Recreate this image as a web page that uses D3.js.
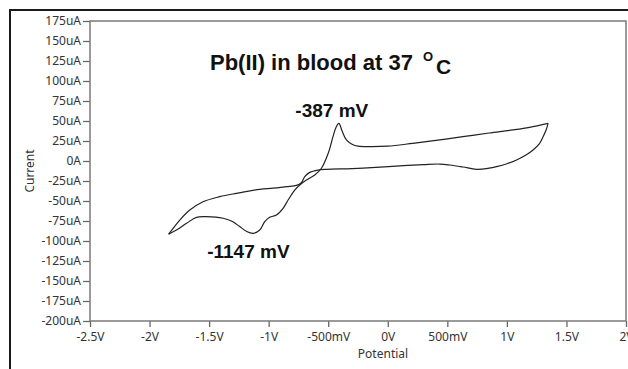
<!DOCTYPE html>
<html>
<head>
<meta charset="utf-8">
<script src="https://cdn.jsdelivr.net/npm/d3@7"></script>
<style>
  html, body { margin: 0; padding: 0; background: #fff; }
  svg { display: block; }
  .tick text { font-family: "Noto Sans", sans-serif; font-size: 12px; fill: #333; }
  .tick line { stroke: #666; stroke-width: 1.3; }
  .lbl { font-family: "Liberation Sans", Arial, sans-serif; font-weight: bold; fill: #111; }
</style>
</head>
<body>
<svg id="chart" width="628" height="369"></svg>
<script>
// forward scan: from the right vertex back to the left vertex (V, uA)
const scan1Potential = [1.346, 1.19, 1.05, 0.85, 0.63, 0.42, 0.21, 0.0, -0.15, -0.25, -0.30, -0.347, -0.385, -0.41,
  -0.435, -0.46, -0.50, -0.557, -0.613, -0.683, -0.739, -0.781, -0.837, -0.879, -0.935, -0.991, -1.033, -1.075,
  -1.131, -1.18, -1.243, -1.30, -1.383, -1.522, -1.606, -1.69, -1.774, -1.84];
const scan1Current = [47, 42, 38.8, 35, 30.4, 26, 22.1, 18.5, 17.9, 18.5, 21, 26.3, 38, 47,
  42, 30.4, 9.6, -9.1, -17.5, -23.8, -30, -36.3, -48.8, -59.1, -67.5, -70.4, -75.9, -86.3,
  -90.4, -88.5, -82, -76, -71.6, -69.6, -70.4, -77.9, -86.3, -91.5];

// reverse scan: from the left vertex to the right vertex
const scan2Potential = [-1.84, -1.746, -1.662, -1.551, -1.411, -1.27, -1.075, -0.963, -0.85, -0.767, -0.725,
  -0.697, -0.655, -0.585, -0.515, -0.30, -0.10, 0.10, 0.30, 0.437, 0.521, 0.632, 0.745, 0.85, 0.913, 1.0,
  1.081, 1.16, 1.22, 1.27, 1.304, 1.33, 1.346];
const scan2Current = [-91.5, -73.8, -61.3, -50.9, -44.6, -40.4, -35.4, -34, -32, -30.5, -27,
  -19.6, -14.2, -11.3, -10.4, -9.5, -8, -6, -4.5, -3.8, -5, -7.5, -10.4, -9, -7.1, -3.5,
  1.3, 7.5, 13.8, 21, 30.4, 39, 47];

const xTickValues = [-2.5, -2, -1.5, -1, -0.5, 0, 0.5, 1, 1.5, 2];
const xTickLabels = ["-2.5V", "-2V", "-1.5V", "-1V", "-500mV", "0V", "500mV", "1V", "1.5V", "2V"];
const yTickValues = [175, 150, 125, 100, 75, 50, 25, 0, -25, -50, -75, -100, -125, -150, -175, -200];
const yTickLabels = ["175uA", "150uA", "125uA", "100uA", "75uA", "50uA", "25uA", "0A", "-25uA", "-50uA",
  "-75uA", "-100uA", "-125uA", "-150uA", "-175uA", "-200uA"];

const peaks = [
  {text: "-387 mV", potential: -0.47, current: 55},
  {text: "-1147 mV", potential: -1.17, current: -121}
];

const svg = d3.select("#chart");
const plot = {left: 90, top: 21, right: 626, bottom: 321};

const x = d3.scaleLinear().domain([-2.5, 2]).range([plot.left, plot.right]);
const y = d3.scaleLinear().domain([-200, 175]).range([plot.bottom, plot.top]);

// outer black frame (top and left edges only visible)
svg.append("path")
  .attr("d", "M10,369 L10,10 L628,10")
  .attr("fill", "none").attr("stroke", "#1a1a1a").attr("stroke-width", 2);

// axes
const yAxis = d3.axisLeft(y).tickValues(yTickValues)
  .tickFormat((d, i) => yTickLabels[i]).tickSize(7).tickPadding(2);
svg.append("g").attr("transform", `translate(${plot.left},0)`).call(yAxis)
  .call(g => g.select(".domain").remove());

const xAxis = d3.axisBottom(x).tickValues(xTickValues)
  .tickFormat((d, i) => xTickLabels[i]).tickSize(6).tickPadding(5);
svg.append("g").attr("transform", `translate(0,${plot.bottom})`).call(xAxis)
  .call(g => g.select(".domain").remove());

// plot frame
svg.append("rect")
  .attr("x", plot.left).attr("y", plot.top)
  .attr("width", plot.right - plot.left).attr("height", plot.bottom - plot.top)
  .attr("fill", "none").attr("stroke", "#7a7a7a").attr("stroke-width", 1.5);

// axis titles
svg.append("text")
  .attr("x", 383).attr("y", 358)
  .attr("text-anchor", "middle")
  .style("font-family", "'Noto Sans', sans-serif").style("font-size", "12px").style("fill", "#333")
  .text("Potential");
svg.append("text")
  .attr("transform", "translate(30,171) rotate(-90)")
  .attr("text-anchor", "middle").attr("dy", "0.35em")
  .style("font-family", "'Noto Sans', sans-serif").style("font-size", "12px").style("fill", "#333")
  .text("Current");

// voltammogram
const line = d3.line()
  .x(d => x(d[0])).y(d => y(d[1]))
  .curve(d3.curveCatmullRom.alpha(0.5));

[[scan1Potential, scan1Current], [scan2Potential, scan2Current]].forEach(([pv, cv]) => {
  svg.append("path")
    .datum(d3.zip(pv, cv))
    .attr("d", line)
    .attr("fill", "none").attr("stroke", "#222").attr("stroke-width", 1.2)
    .attr("stroke-linejoin", "round");
});

// title
svg.append("text").attr("class", "lbl").attr("x", 210).attr("y", 70)
  .style("font-size", "22px").text("Pb(II) in blood at 37");
svg.append("text").attr("class", "lbl").attr("x", 423).attr("y", 61)
  .style("font-size", "13px").text("O");
svg.append("text").attr("class", "lbl").attr("x", 436).attr("y", 74)
  .style("font-size", "21px").text("C");

// peak labels
svg.selectAll(".peak").data(peaks).enter().append("text")
  .attr("class", "lbl peak")
  .attr("x", d => x(d.potential)).attr("y", d => y(d.current))
  .attr("text-anchor", "middle")
  .style("font-size", "19px")
  .text(d => d.text);
</script>
</body>
</html>
